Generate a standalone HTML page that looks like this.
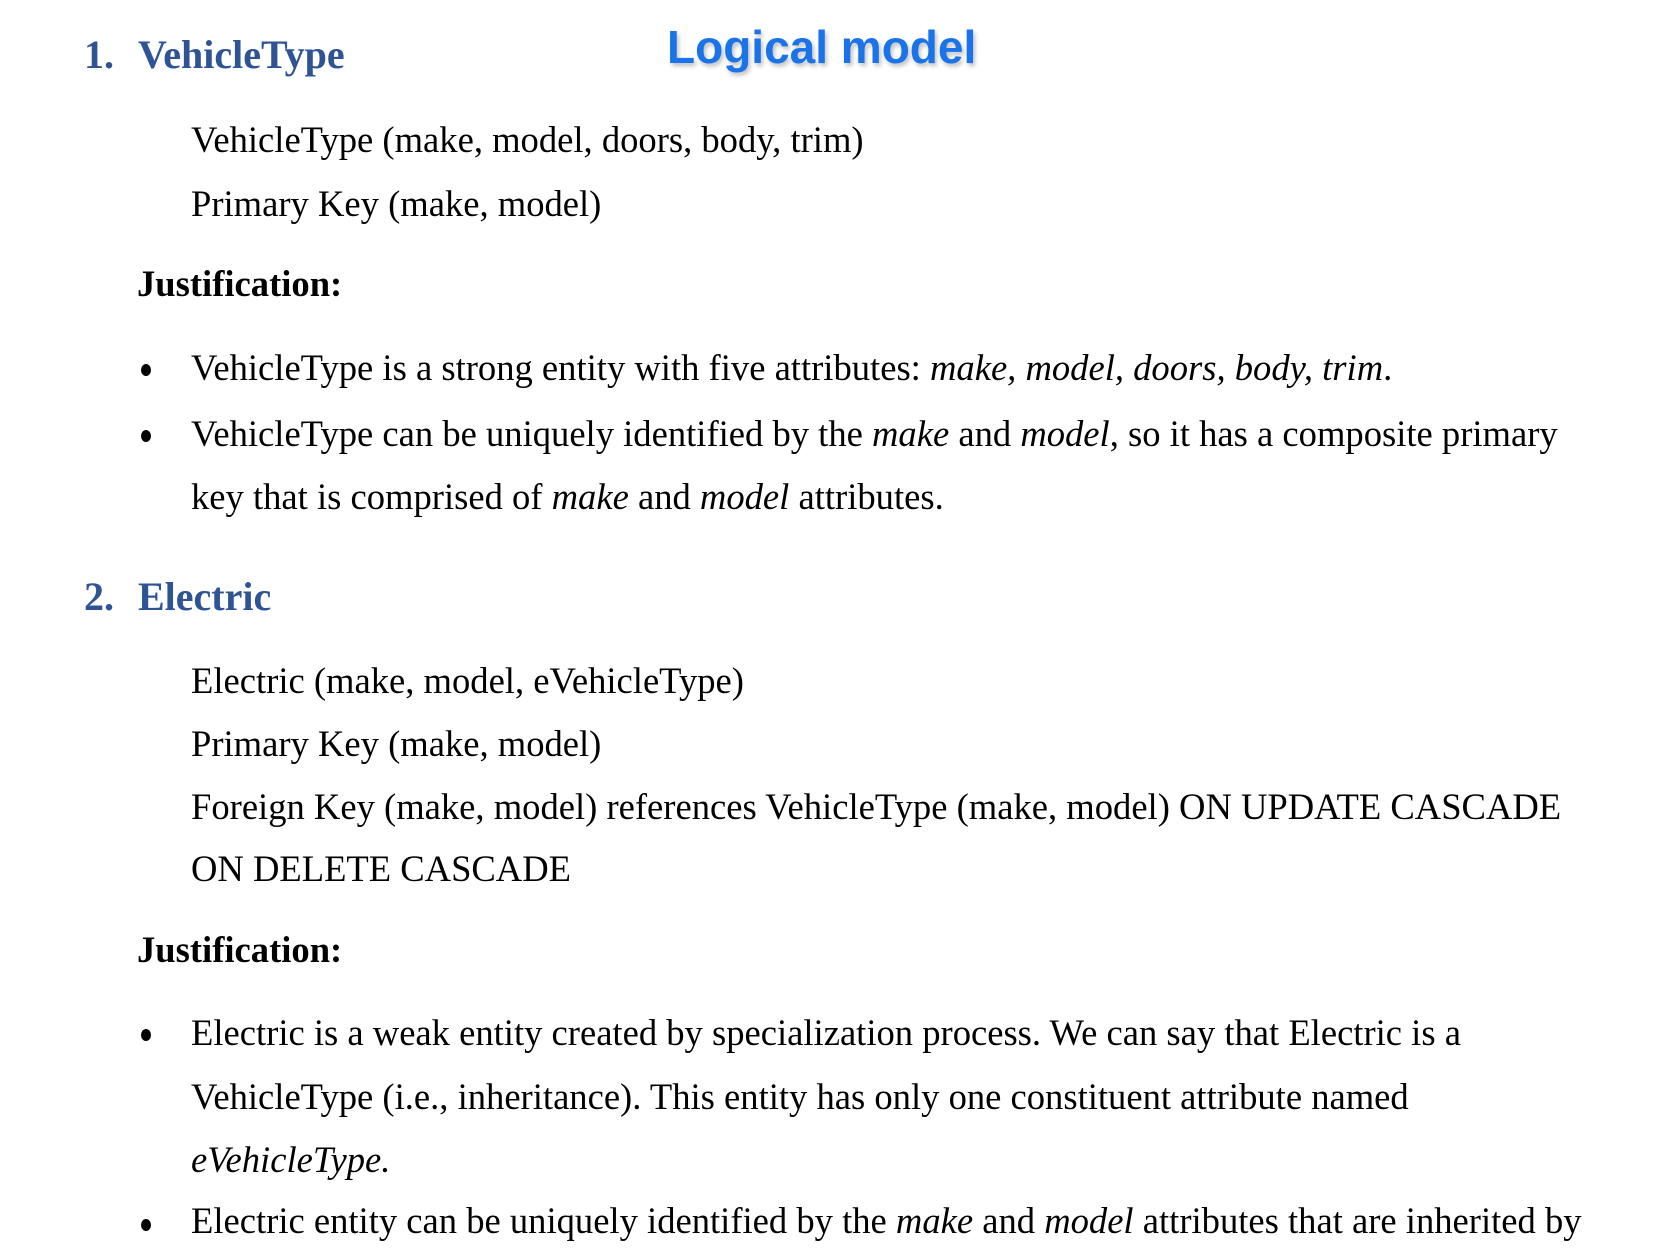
<!DOCTYPE html>
<html><head><meta charset="utf-8"><style>
html,body{margin:0;padding:0;background:#fff;}
body{width:1674px;height:1256px;position:relative;overflow:hidden;font-family:"Liberation Serif",serif;font-size:36.6px;color:#000;}
.l{position:absolute;white-space:nowrap;line-height:40px;}
.h{color:#2f5496;font-weight:bold;font-size:40px;}
.b{font-weight:bold;}
.t{position:absolute;left:667px;top:19px;font-family:"Liberation Sans",sans-serif;font-weight:bold;font-size:46px;color:#1a73e8;text-shadow:2px 3px 4px rgba(0,0,0,0.25);line-height:56px;}
.dot{position:absolute;width:10px;height:12px;border-radius:50%;background:#000;}
</style></head><body>
<div class="t">Logical model</div>
<div class="l h" style="left:84px;top:35px">1.</div>
<div class="l h" style="left:138px;top:35px">VehicleType</div>
<div class="l" style="left:191px;top:120px">VehicleType (make, model, doors, body, trim)</div>
<div class="l" style="left:191px;top:184px">Primary Key (make, model)</div>
<div class="l b" style="left:137px;top:264px">Justification:</div>
<div class="dot" style="left:141px;top:364px"></div>
<div class="l" style="left:191px;top:348px">VehicleType is a strong entity with five attributes: <i>make, model, doors, body, trim</i>.</div>
<div class="dot" style="left:141px;top:430px"></div>
<div class="l" style="left:191px;top:414px">VehicleType can be uniquely identified by the <i>make</i> and <i>model</i>, so it has a composite primary</div>
<div class="l" style="left:191px;top:477px">key that is comprised of <i>make</i> and <i>model</i> attributes.</div>
<div class="l h" style="left:84px;top:577px">2.</div>
<div class="l h" style="left:138px;top:577px">Electric</div>
<div class="l" style="left:191px;top:661px">Electric (make, model, eVehicleType)</div>
<div class="l" style="left:191px;top:724px">Primary Key (make, model)</div>
<div class="l" style="left:191px;top:787px">Foreign Key (make, model) references VehicleType (make, model) ON UPDATE CASCADE</div>
<div class="l" style="left:191px;top:849px">ON DELETE CASCADE</div>
<div class="l b" style="left:137px;top:930px">Justification:</div>
<div class="dot" style="left:141px;top:1029px"></div>
<div class="l" style="left:191px;top:1013px">Electric is a weak entity created by specialization process. We can say that Electric is a</div>
<div class="l" style="left:191px;top:1077px">VehicleType (i.e., inheritance). This entity has only one constituent attribute named</div>
<div class="l" style="left:191px;top:1140px"><i>eVehicleType.</i></div>
<div class="dot" style="left:141px;top:1219px"></div>
<div class="l" style="left:191px;top:1201px">Electric entity can be uniquely identified by the <i>make</i> and <i>model</i> attributes that are inherited by</div>
</body></html>
